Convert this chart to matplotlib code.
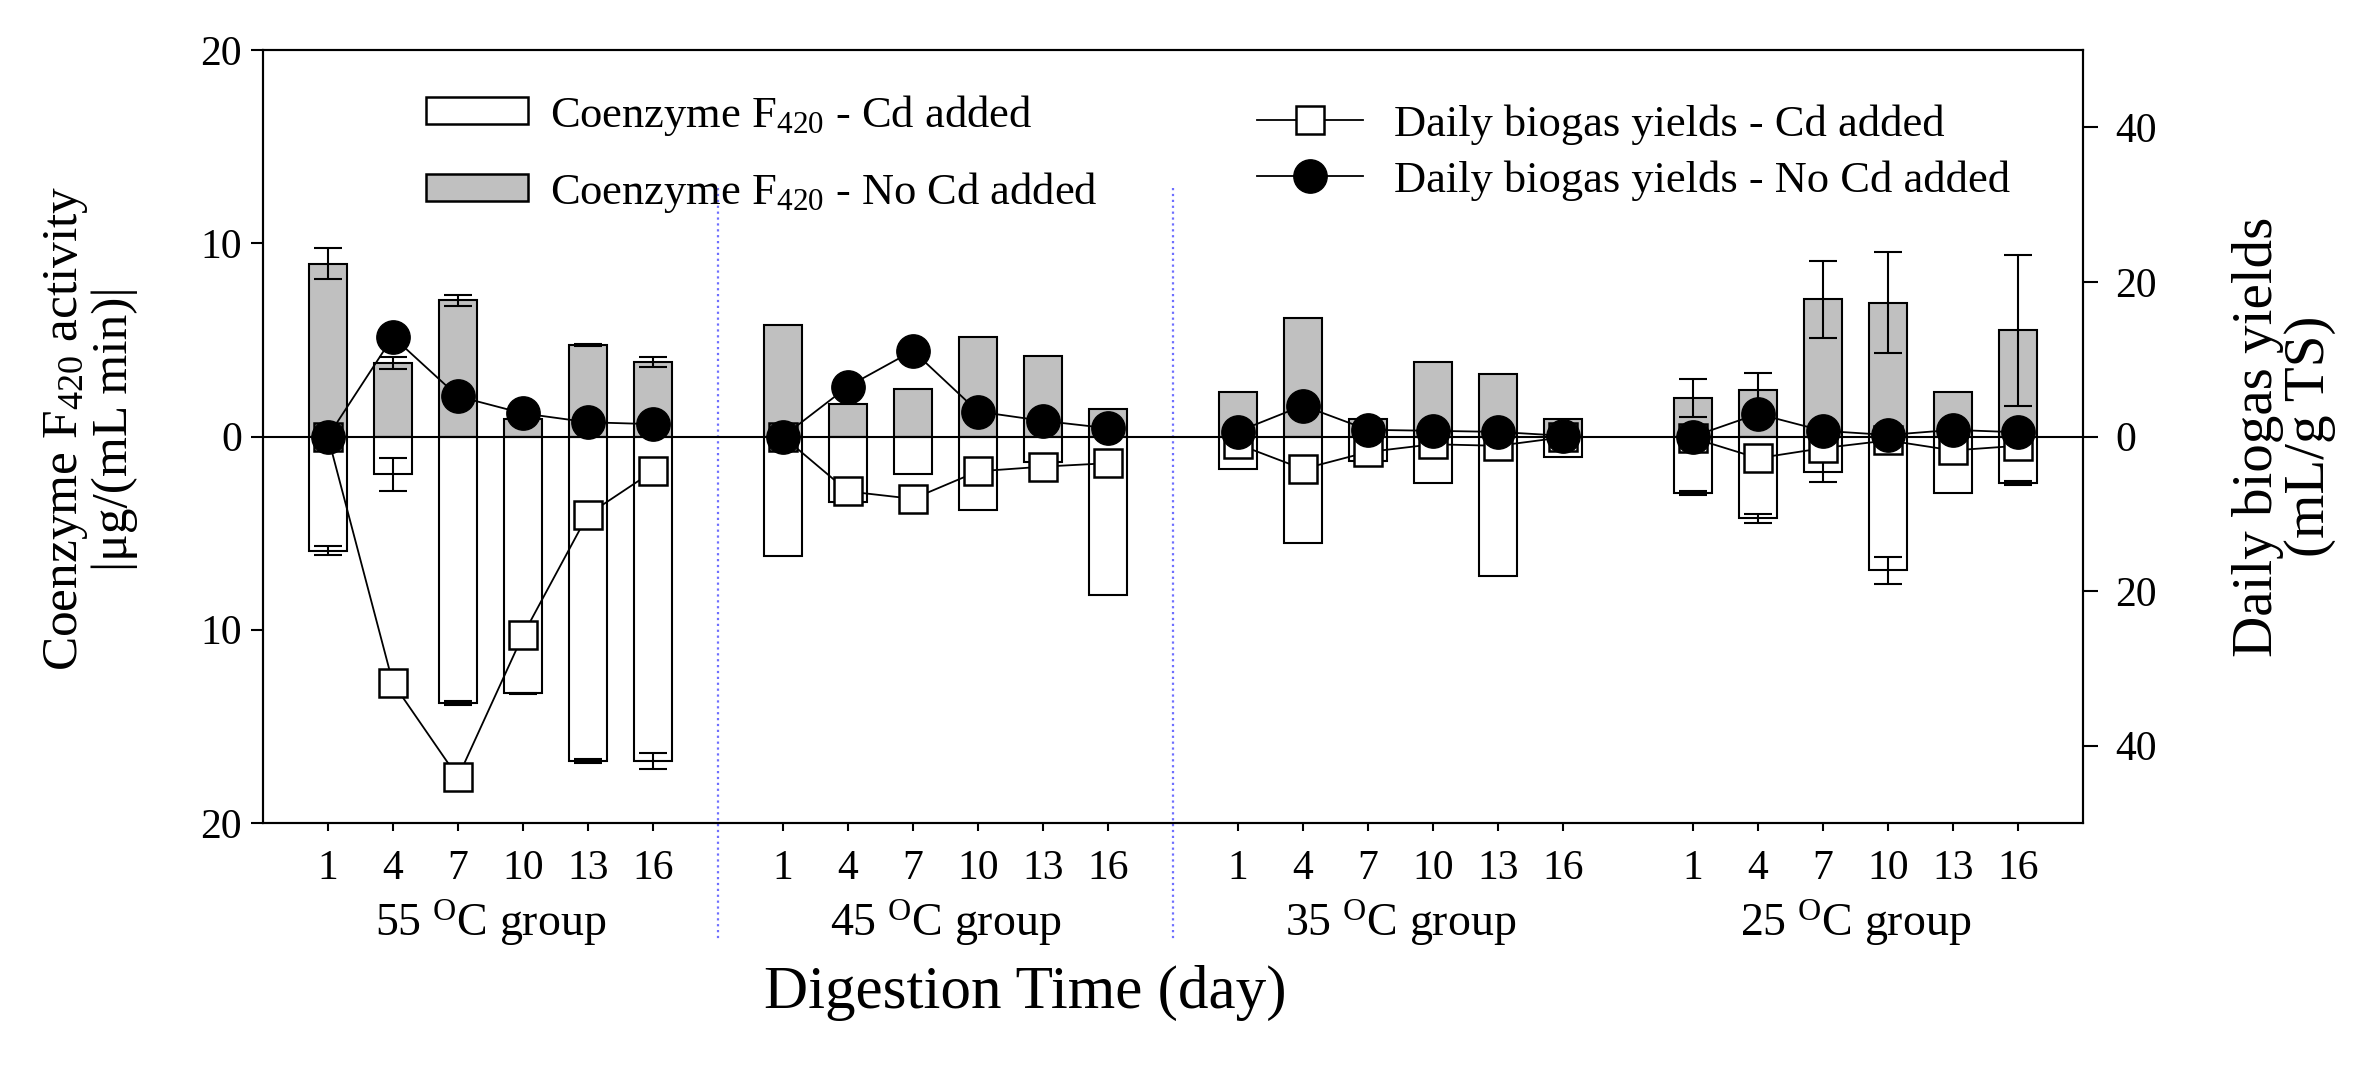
import matplotlib.pyplot as plt
import numpy as np
import matplotlib.transforms as mtransforms
from matplotlib.patches import Patch
from matplotlib.lines import Line2D

plt.rcParams['font.family'] = 'Liberation Serif'
plt.rcParams['mathtext.fontset'] = 'custom'
plt.rcParams['mathtext.rm'] = 'Liberation Serif'
plt.rcParams['mathtext.it'] = 'Liberation Serif:italic'

days = [1, 4, 7, 10, 13, 16]
group_names = ['55', '45', '35', '25']

# coenzyme F420 activity, ug/(mL min)  (Cd added drawn downward)
f420_nocd = [[8.95, 3.8, 7.05, 0.93, 4.73, 3.86],
             [5.77, 1.68, 2.48, 5.14, 4.16, 1.42],
             [2.3, 6.15, 0.9, 3.84, 3.26, 0.9],
             [1.99, 2.42, 7.1, 6.93, 2.29, 5.5]]
f420_nocd_err = [[0.8, 0.3, 0.3, 0, 0.05, 0.25],
                 [0, 0, 0, 0, 0, 0],
                 [0, 0, 0, 0, 0, 0],
                 [1.0, 0.85, 2.0, 2.6, 0, 3.9]]
f420_cd = [[5.9, 1.96, 13.77, 13.3, 16.8, 16.8],
           [6.18, 3.41, 1.96, 3.81, 1.3, 8.2],
           [1.68, 5.5, 1.26, 2.39, 7.2, 1.04],
           [2.94, 4.24, 1.82, 6.93, 2.94, 2.42]]
f420_cd_err = [[0.25, 0.85, 0.1, 0.05, 0.1, 0.4],
               [0, 0, 0, 0, 0, 0],
               [0, 0, 0, 0, 0, 0],
               [0.1, 0.25, 0.55, 0.7, 0, 0.1]]

# daily biogas yields, mL/g TS  (Cd added drawn downward)
biogas_nocd = [[0, 12.9, 5.2, 3.0, 1.85, 1.6],
               [0, 6.47, 11.1, 3.23, 2.03, 1.08],
               [0.65, 4.0, 0.87, 0.74, 0.6, 0.1],
               [0, 2.93, 0.74, 0.2, 0.86, 0.55]]
biogas_cd = [[0, 31.9, 44.1, 25.7, 10.1, 4.5],
             [0, 7.1, 8.06, 4.5, 3.9, 3.45],
             [1.0, 4.2, 2.0, 1.0, 1.2, 0.1],
             [0.2, 2.8, 1.5, 0.5, 1.8, 1.2]]

fig = plt.figure(figsize=(23.6, 10.66), dpi=100)
ax = fig.add_axes([0.1114, 0.228, 0.7712, 0.725])
ax2 = ax.twinx()

w = 0.585
for g in range(4):
    x = 7 * g + np.arange(1, 7)
    up = np.array(f420_nocd[g])
    dn = -np.array(f420_cd[g])
    ax.bar(x, up, w, color='#c0c0c0', edgecolor='k', lw=1.5, zorder=2)
    ax.bar(x, dn, w, color='white', edgecolor='k', lw=1.5, zorder=2)
    e1 = np.array(f420_nocd_err[g])
    m = e1 > 0
    ax.errorbar(x[m], up[m], yerr=e1[m], fmt='none', ecolor='k',
                elinewidth=1.5, capsize=10, capthick=1.5, zorder=3)
    e2 = np.array(f420_cd_err[g])
    m = e2 > 0
    ax.errorbar(x[m], dn[m], yerr=e2[m], fmt='none', ecolor='k',
                elinewidth=1.5, capsize=10, capthick=1.5, zorder=3)
    ax2.plot(x, -np.array(biogas_cd[g]), '-s', color='k', ms=20,
             mfc='white', mec='k', mew=1.8, lw=1.3, zorder=3)
    ax2.plot(x, biogas_nocd[g], '-o', color='k', ms=24, lw=1.3, zorder=4)
    ax.text(7 * g + 3.5, -0.129, group_names[g] + r' $^{\rm O}$C group',
            transform=mtransforms.blended_transform_factory(ax.transData, ax.transAxes),
            ha='center', va='center', fontsize=33)

ax.axhline(0, color='k', lw=1.5, zorder=2.5)

# dotted separators between groups
trans = mtransforms.blended_transform_factory(ax.transData, ax.transAxes)
for xs in [7, 14]:
    ax.plot([xs, xs], [0.821, -0.151], transform=trans, ls=':', color='#6f6fff',
            lw=1.6, clip_on=False)

ax.set_xlim(0, 28)
ax.set_ylim(-20, 20)
ax2.set_ylim(-50, 50)

ticks = [7 * g + k for g in range(4) for k in range(1, 7)]
ax.set_xticks(ticks)
ax.set_xticklabels([str(d) for d in days] * 4, fontsize=30)
ax.set_yticks([-20, -10, 0, 10, 20])
ax.set_yticklabels(['20', '10', '0', '10', '20'], fontsize=30)
ax2.set_yticks([-40, -20, 0, 20, 40])
ax2.set_yticklabels(['40', '20', '0', '20', '40'], fontsize=30)

ax.tick_params(axis='x', direction='out', length=6, width=1.5, pad=13)
ax.tick_params(axis='y', direction='out', length=9, width=1.5, pad=6)
ax2.tick_params(axis='y', direction='out', length=11, width=1.5, pad=12)
for a in (ax, ax2):
    for s in a.spines.values():
        s.set_linewidth(1.5)

ax.set_ylabel('Coenzyme F$_{420}$ activity\n|μg/(mL min)|', fontsize=37, linespacing=1.05)
ax.yaxis.set_label_coords(-0.0687, 0.51)
ax2.set_ylabel('Daily biogas yields\n(mL/g TS)', fontsize=41, linespacing=1.0)
ax2.yaxis.set_label_coords(1.082, 0.5)

ax.text(0.419, -0.22, 'Digestion Time (day)', transform=ax.transAxes,
        ha='center', va='center', fontsize=44)

h1 = Patch(facecolor='white', edgecolor='k', lw=1.8)
h2 = Patch(facecolor='#c0c0c0', edgecolor='k', lw=1.8)
leg1 = ax2.legend([h1, h2], ['Coenzyme F$_{420}$ - Cd added', 'Coenzyme F$_{420}$ - No Cd added'],
                  loc='upper left', bbox_to_anchor=(0.0896, 0.945), frameon=False,
                  fontsize=32, handlelength=2.3, handleheight=0.55, labelspacing=0.72,
                  handletextpad=0.5, borderpad=0, borderaxespad=0)
ax2.add_artist(leg1)
h3 = Line2D([], [], color='k', marker='s', ms=20, mfc='white', mec='k', mew=1.8, lw=1.3)
h4 = Line2D([], [], color='k', marker='o', ms=24, lw=1.3)
ax2.legend([h3, h4], ['Daily biogas yields - Cd added', 'Daily biogas yields - No Cd added'],
           loc='upper left', bbox_to_anchor=(0.546, 0.93), frameon=False,
           fontsize=32, handlelength=2.4, labelspacing=0.35,
           handletextpad=0.7, borderpad=0, borderaxespad=0)

fig.savefig('out.png', dpi=100)
